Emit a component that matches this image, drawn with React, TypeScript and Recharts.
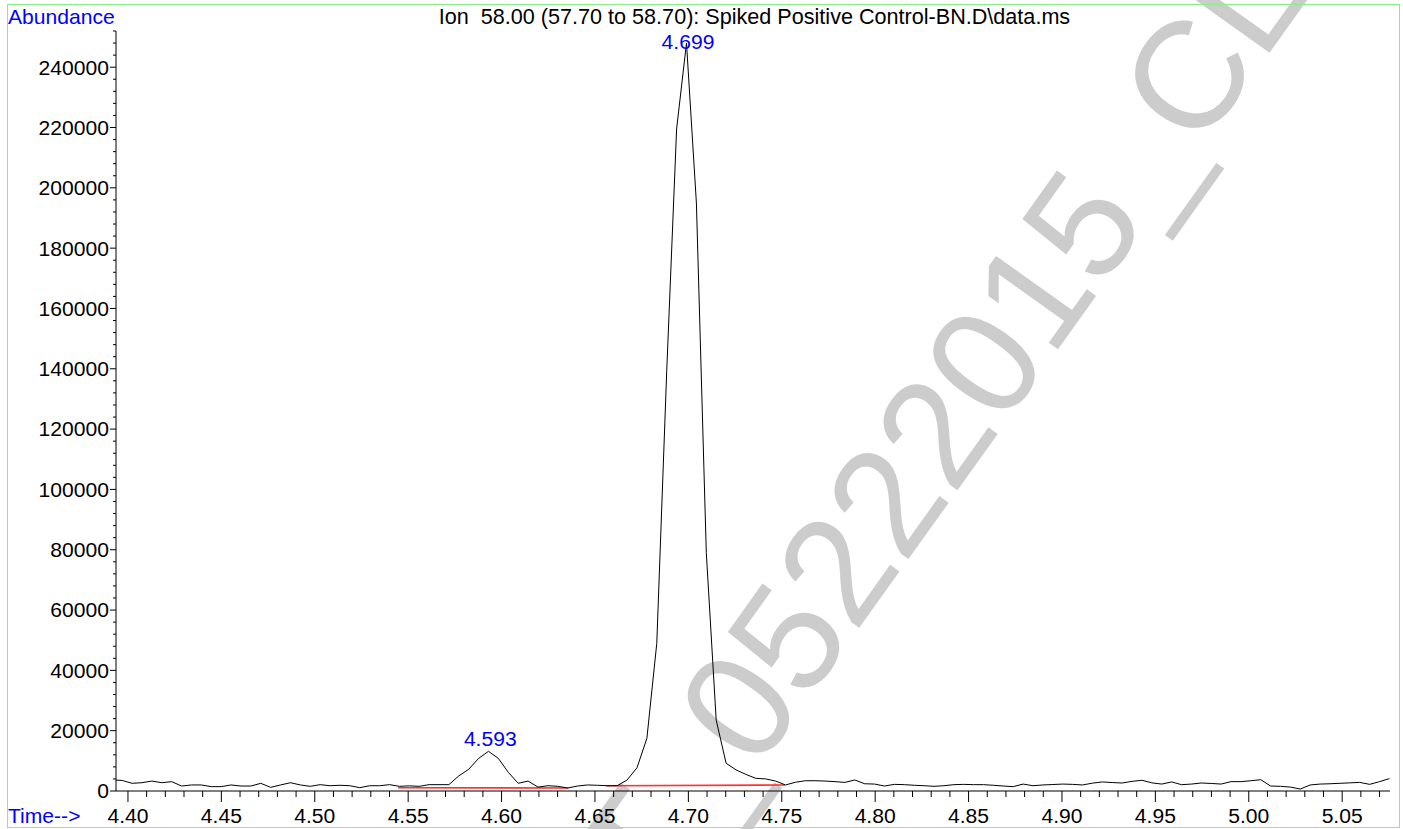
import React from 'react';
import { LineChart, Line, XAxis, YAxis, ReferenceDot } from 'recharts';

// Retention time (min) of each scan
const times = [
  4.3916, 4.3969, 4.4022, 4.4075, 4.4128, 4.4181, 4.4234, 4.4287, 4.4340, 4.4393,
  4.4446, 4.4499, 4.4552, 4.4605, 4.4658, 4.4711, 4.4764, 4.4817, 4.4870, 4.4923,
  4.4976, 4.5029, 4.5082, 4.5135, 4.5188, 4.5241, 4.5294, 4.5347, 4.5400, 4.5453,
  4.5506, 4.5559, 4.5612, 4.5665, 4.5718, 4.5771, 4.5824, 4.5877, 4.5930, 4.5983,
  4.6036, 4.6089, 4.6142, 4.6195, 4.6248, 4.6301, 4.6354, 4.6407, 4.6460, 4.6513,
  4.6566, 4.6619, 4.6672, 4.6725, 4.6778, 4.6831, 4.6884, 4.6937, 4.6990, 4.7043,
  4.7096, 4.7149, 4.7202, 4.7255, 4.7308, 4.7361, 4.7414, 4.7467, 4.7520, 4.7573,
  4.7626, 4.7679, 4.7732, 4.7785, 4.7838, 4.7891, 4.7944, 4.7997, 4.8050, 4.8103,
  4.8156, 4.8209, 4.8262, 4.8315, 4.8368, 4.8421, 4.8474, 4.8527, 4.8580, 4.8633,
  4.8686, 4.8739, 4.8792, 4.8845, 4.8898, 4.8951, 4.9004, 4.9057, 4.9110, 4.9163,
  4.9216, 4.9269, 4.9322, 4.9375, 4.9428, 4.9481, 4.9534, 4.9587, 4.9640, 4.9693,
  4.9746, 4.9799, 4.9852, 4.9905, 4.9958, 5.0011, 5.0064, 5.0117, 5.0170, 5.0223,
  5.0276, 5.0329, 5.0382, 5.0435, 5.0488, 5.0541, 5.0594, 5.0647, 5.0700, 5.0753,
];

// Abundance of ion 58.00 at each scan
const abundance = [
  3700, 3500, 2550, 2750, 3300, 2750, 3100, 1650, 2000, 2000,
  1450, 1450, 2000, 1650, 1650, 2550, 1200, 2000, 2750, 2000,
  1550, 2100, 1750, 1900, 1750, 1100, 1750, 1750, 2100, 1550,
  1700, 1550, 2100, 2100, 2100, 5000, 7200, 10800, 13150, 10800,
  6200, 2550, 3300, 1300, 1750, 1550, 1000, 1650, 2000, 1900,
  1750, 1750, 3650, 7700, 17500, 49000, 139000, 219500, 248000, 195000,
  79000, 23500, 9200, 7000, 5500, 4200, 4000, 3300, 2000, 2900,
  3400, 3400, 3300, 3100, 2850, 3650, 2400, 2300, 1650, 2200,
  2100, 1900, 1750, 1550, 1750, 2100, 2200, 2100, 2100, 1900,
  1650, 1450, 2300, 1750, 2000, 2150, 2300, 2200, 2000, 2600,
  3000, 2800, 2650, 3200, 3550, 2700, 2300, 3000, 2100, 2300,
  2650, 2500, 2300, 3100, 3100, 3400, 3750, 1650, 1550, 1300,
  650, 2000, 2300, 2400, 2550, 2700, 2850, 2200, 3100, 4100,
];

// Integration baselines
const baselineATimes = [4.5446, 4.6357];
const baselineAValues = [1100, 1000];
const baselineBTimes = [4.6559, 4.7517];
const baselineBValues = [1760, 1990];

// Peak annotations
const peakTimes = [4.593, 4.699];
const peakHeights = [13150, 248000];
const peakLabels = ['4.593', '4.699'];

// Axis labels
const xMajorLabels = ['4.40', '4.45', '4.50', '4.55', '4.60', '4.65', '4.70', '4.75', '4.80', '4.85', '4.90', '4.95', '5.00', '5.05'];
const yMajorLabels = ['0', '20000', '40000', '60000', '80000', '100000', '120000', '140000', '160000', '180000', '200000', '220000', '240000'];

const titleText = 'Ion  58.00 (57.70 to 58.70): Spiked Positive Control-BN.D\\data.ms';
const watermarkHead = 'T_';
const watermarkText = '05222015_CL';

const data = times.map((t, i) => ({ t, v: abundance[i] }));
const baselineA = baselineATimes.map((t, i) => ({ t, v: baselineAValues[i] }));
const baselineB = baselineBTimes.map((t, i) => ({ t, v: baselineBValues[i] }));

const xTicks = Array.from({ length: 68 }, (_, i) => Math.round(440 + i) / 100);
const yTicks = Array.from({ length: 64 }, (_, i) => i * 4000);

const FONT = '"Liberation Sans", Arial, Helvetica, sans-serif';
const FS = 21.1;

const XTick = (props: any) => {
  const { x, y, payload } = props;
  const idx = Math.round(payload.value * 100) - 440;
  const major = idx % 5 === 0;
  return (
    <g>
      <line x1={x} x2={x} y1={y} y2={y + (major ? 11 : 6)} stroke="#000" strokeWidth={1} />
      {major && (
        <text x={x} y={y + 31.5} textAnchor="middle" fontFamily={FONT} fontSize={FS} fill="#000">
          {xMajorLabels[idx / 5]}
        </text>
      )}
    </g>
  );
};

const YTick = (props: any) => {
  const { x, y, payload } = props;
  const major = payload.value % 20000 === 0;
  return (
    <g>
      <line x1={x - (major ? 6 : 3)} x2={x} y1={y} y2={y} stroke="#000" strokeWidth={1} />
      {major && (
        <text x={x - 7} y={y} dy="0.35em" textAnchor="end" fontFamily={FONT} fontSize={FS} fill="#000">
          {yMajorLabels[payload.value / 20000]}
        </text>
      )}
    </g>
  );
};

const labelOffsets = [
  { dx: 1.8, dy: -5.6 },
  { dx: 1.5, dy: 6.3 },
];

const WM = { x: 756.7, y: 771.7, angle: -54.5, size: 152 };

export default function App() {
  return (
    <div style={{ position: 'absolute', left: 0, top: 0, width: 1403, height: 829, overflow: 'hidden', background: '#fff' }}>
      <svg width={1403} height={829} style={{ position: 'absolute', left: 0, top: 0 }}>
        <g transform={`rotate(${WM.angle} ${WM.x} ${WM.y})`} fontFamily={FONT} fontSize={WM.size} fill="#cccccc">
          <text x={WM.x} y={WM.y} textAnchor="end">{watermarkHead}</text>
          <text x={WM.x} y={WM.y}>{watermarkText}</text>
        </g>
        <rect x={7.5} y={4.5} width={1392} height={823} fill="none" stroke="#88ee88" strokeWidth={1} />
        <text x={8} y={24} fontFamily={FONT} fontSize={FS} fill="#0000ff">Abundance</text>
        <text x={754.5} y={24} textAnchor="middle" fontFamily={FONT} fontSize={21.6} fill="#000" style={{ whiteSpace: 'pre' }}>
          {titleText}
        </text>
        <text x={8} y={822.5} fontFamily={FONT} fontSize={FS} fill="#0000ff">Time--&gt;</text>
      </svg>
      <div style={{ position: 'absolute', left: 0, top: 0 }}>
        <LineChart width={1403} height={829} data={data} margin={{ top: 31, right: 13, bottom: 8, left: 56 }}>
          <XAxis
            dataKey="t"
            type="number"
            domain={[4.3936, 5.0756]}
            allowDataOverflow
            ticks={xTicks}
            interval={0}
            height={30}
            tickSize={0}
            tickMargin={0}
            tickLine={false}
            axisLine={{ stroke: '#000', strokeWidth: 1 }}
            tick={<XTick />}
          />
          <YAxis
            type="number"
            domain={[0, 252000]}
            allowDataOverflow
            ticks={yTicks}
            interval={0}
            width={60}
            tickSize={0}
            tickMargin={0}
            tickLine={false}
            axisLine={{ stroke: '#000', strokeWidth: 1 }}
            tick={<YTick />}
          />
          <Line data={baselineA} dataKey="v" type="linear" stroke="#ff3030" strokeWidth={1.6} dot={false} isAnimationActive={false} />
          <Line data={baselineB} dataKey="v" type="linear" stroke="#ff3030" strokeWidth={1.6} dot={false} isAnimationActive={false} />
          <Line dataKey="v" type="linear" stroke="#000" strokeWidth={1} dot={false} isAnimationActive={false} />
          {peakTimes.map((pt, i) => (
            <ReferenceDot
              key={pt}
              x={pt}
              y={peakHeights[i]}
              r={1}
              isFront
              shape={(p: any) => (
                <text
                  x={p.cx + labelOffsets[i].dx}
                  y={p.cy + labelOffsets[i].dy}
                  textAnchor="middle"
                  fontFamily={FONT}
                  fontSize={FS}
                  fill="#0000ff"
                >
                  {peakLabels[i]}
                </text>
              )}
            />
          ))}
        </LineChart>
      </div>
    </div>
  );
}
